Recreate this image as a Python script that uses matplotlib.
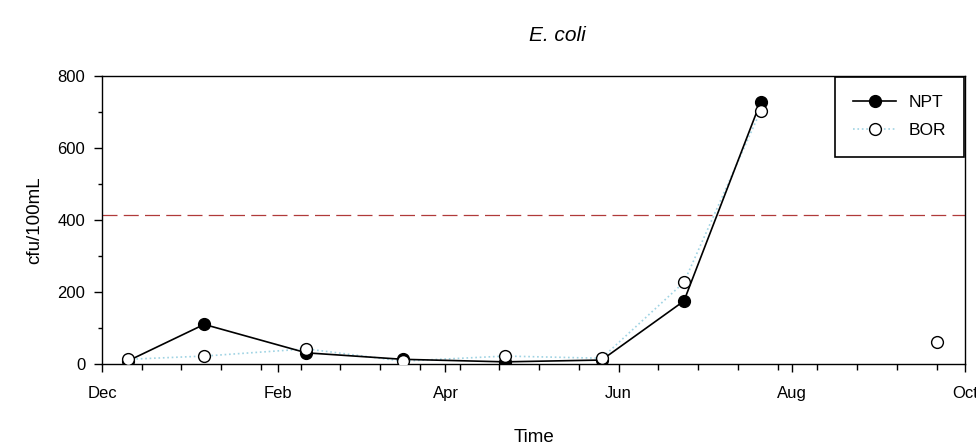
import matplotlib
matplotlib.use('Agg')
import matplotlib.pyplot as plt
import matplotlib.dates as mdates
from matplotlib.ticker import MultipleLocator, FixedLocator
import numpy as np
import datetime as dt

plt.rcParams['font.family'] = ['Liberation Sans', 'DejaVu Sans']

# sample dates and counts (cfu/100mL)
dates = ['2012-12-10', '2013-01-06', '2013-02-11', '2013-03-17', '2013-04-22',
         '2013-05-26', '2013-06-24', '2013-07-21', '2013-09-21']
npt = [8, 110, 31, 13, 6, 11, 175, 728, np.nan]
bor = [13, 22, 42, 8, 22, 16, 227, 703, 62]
threshold = 414

x = [dt.datetime.strptime(d, '%Y-%m-%d') for d in dates]
x0 = dt.datetime(2012, 12, 1)
x1 = dt.datetime(2013, 10, 1)

fig = plt.figure(figsize=(9.76, 4.48), dpi=100)
ax = fig.add_axes([102/976, 84/448, 863/976, 288/448])

# BOR line only through the summer samples, last sample stands alone
ax.plot(x[:8], bor[:8], linestyle=':', color='#9fd3e3', linewidth=1.2, zorder=2)
ax.plot(x, npt, '-', color='black', linewidth=1.2, zorder=3,
        marker='o', markersize=8.5, markerfacecolor='black', markeredgecolor='black')
ax.plot(x, bor, linestyle='none', marker='o', markersize=8.5,
        markerfacecolor='white', markeredgecolor='black', markeredgewidth=1, zorder=4)

ax.axhline(threshold, color='#b03a3a', linestyle=(0, (12, 5)), linewidth=0.9, zorder=1)

# legend handles
h1, = ax.plot([], [], '-', color='black', linewidth=1.2, marker='o', markersize=8.5,
              markerfacecolor='black')
h2, = ax.plot([], [], ':', color='#9fd3e3', linewidth=1.2, marker='o', markersize=8.5,
              markerfacecolor='white', markeredgecolor='black')
leg = ax.legend([h1, h2], ['NPT', 'BOR'], loc='upper right', fontsize=12.5,
                fancybox=False, framealpha=1, edgecolor='black',
                borderaxespad=0.05, handlelength=2.5, borderpad=1.05,
                labelspacing=0.75, handletextpad=0.7)
leg.get_frame().set_linewidth(1.2)

ax.set_xlim(x0, x1)
ax.set_ylim(0, 800)

ax.xaxis.set_major_locator(mdates.MonthLocator(bymonth=[12, 2, 4, 6, 8, 10]))
ax.xaxis.set_major_formatter(mdates.DateFormatter('%b'))
minor = mdates.date2num(x0) + np.arange(0, 304, 14)
ax.xaxis.set_minor_locator(FixedLocator(minor))
ax.yaxis.set_major_locator(MultipleLocator(200))
ax.yaxis.set_minor_locator(MultipleLocator(100))

ax.tick_params(which='major', direction='out', length=6, width=1, labelsize=12, pad=10)
ax.tick_params(which='minor', direction='out', length=4, width=1)
ax.tick_params(axis='y', which='major', pad=6)
ax.tick_params(axis='y', which='minor', length=3)

for s in ax.spines.values():
    s.set_linewidth(1)

ax.set_xlabel('Time', fontsize=13.5, labelpad=20)
ax.set_ylabel('cfu/100mL', fontsize=13.5, labelpad=10)
fig.text(0.571, 0.92, 'E. coli', fontsize=15, style='italic', ha='center', va='center')

fig.savefig('out.png', dpi=100)
